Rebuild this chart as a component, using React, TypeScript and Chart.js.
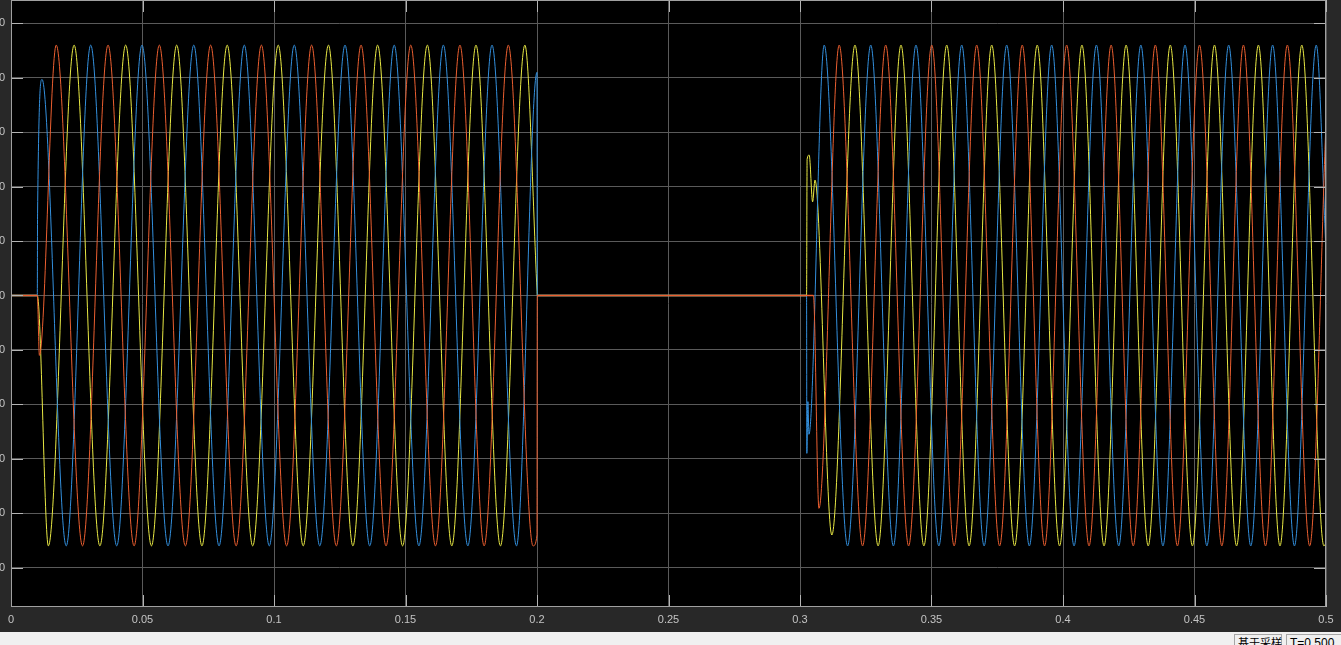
import { useEffect, useRef } from 'react';
import { Chart, registerables } from 'chart.js';

Chart.register(...registerables);

// ---- Data (time in s, value in scope units) ----
// Extrema (peaks/troughs) and transition points of each phase.
const phaseYellowTimes = [0, 0.0100, 0.0142, 0.0240, 0.0338, 0.0436, 0.0534, 0.0630, 0.0726, 0.0822, 0.0919, 0.1016, 0.1111, 0.1207, 0.1300, 0.1394, 0.1489, 0.1583, 0.1676, 0.1768, 0.1861, 0.1954, 0.2000, 0.2001,
  0.3025, 0.3027, 0.3035, 0.3048, 0.3057, 0.3121, 0.3209, 0.3297, 0.3384, 0.3471, 0.3558, 0.3643, 0.3729, 0.3816, 0.3902, 0.3987, 0.4072, 0.4156, 0.4240, 0.4324, 0.4408, 0.4492, 0.4576, 0.4660, 0.4743, 0.4825, 0.4908, 0.4992, 0.5000];
const phaseYellowValues = [0, 0, -460, 460, -460, 460, -460, 460, -460, 460, -460, 460, -460, 460, -460, 460, -460, 460, -460, 460, -460, 460, 10, 0,
  0, 250, 258, 172, 212, -440, 460, -460, 460, -460, 460, -460, 460, -460, 460, -460, 460, -460, 460, -460, 460, -460, 460, -460, 460, -460, 460, -460, -455];

const phaseBlueTimes = [0, 0.0100, 0.0101, 0.0118, 0.0210, 0.0303, 0.0402, 0.0498, 0.0597, 0.0695, 0.0791, 0.0887, 0.0982, 0.1077, 0.1174, 0.1270, 0.1364, 0.1457, 0.1551, 0.1644, 0.1737, 0.1829, 0.1922, 0.2000, 0.2001,
  0.3025, 0.3026, 0.3030, 0.3034, 0.3092, 0.3181, 0.3269, 0.3355, 0.3441, 0.3528, 0.3615, 0.3700, 0.3786, 0.3872, 0.3957, 0.4042, 0.4127, 0.4212, 0.4296, 0.4380, 0.4464, 0.4547, 0.4630, 0.4714, 0.4797, 0.4880, 0.4963, 0.5000];
const phaseBlueValues = [0, 0, 150, 397, -460, 460, -460, 460, -460, 460, -460, 460, -460, 460, -460, 460, -460, 460, -460, 460, -460, 460, -460, 410, 0,
  0, -290, -195, -255, 460, -460, 460, -460, 460, -460, 460, -460, 460, -460, 460, -460, 460, -460, 460, -460, 460, -460, 460, -460, 460, -460, 460, 80];

const phaseOrangeTimes = [0, 0.0100, 0.0108, 0.0172, 0.0272, 0.0369, 0.0468, 0.0564, 0.0663, 0.0759, 0.0856, 0.0952, 0.1048, 0.1143, 0.1237, 0.1331, 0.1426, 0.1520, 0.1614, 0.1707, 0.1799, 0.1891, 0.1985, 0.2000, 0.2001,
  0.3051, 0.3072, 0.3149, 0.3238, 0.3326, 0.3413, 0.3501, 0.3586, 0.3672, 0.3759, 0.3845, 0.3930, 0.4014, 0.4099, 0.4183, 0.4267, 0.4351, 0.4435, 0.4519, 0.4604, 0.4686, 0.4770, 0.4853, 0.4938, 0.5000];
const phaseOrangeValues = [0, 0, -110, 460, -460, 460, -460, 460, -460, 460, -460, 460, -460, 460, -460, 460, -460, 460, -460, 460, -460, 460, -460, -440, 0,
  0, -391, 460, -460, 460, -460, 460, -460, 460, -460, 460, -460, 460, -460, 460, -460, 460, -460, 460, -460, 460, -460, 460, -460, 320];

const xTickLabels = ['0', '0.05', '0.1', '0.15', '0.2', '0.25', '0.3', '0.35', '0.4', '0.45', '0.5'];
const yTickLabels = ['-500', '-400', '-300', '-200', '-100', '0', '100', '200', '300', '400', '500'];
const statusLabels = ['基于采样', 'T=0.500'];

const X_MIN = 0;
const X_MAX = 0.5;
const Y_MIN = -572.3;
const Y_MAX = 542.9;

const COLOR_YELLOW = '#e9e944';
const COLOR_BLUE = '#3390de';
const COLOR_ORANGE = '#ec5f30';
const PANEL_BG = '#282828';
const GRID_COLOR = '#5a5a5a';
const TICK_COLOR = '#b4b4b4';
const FRAME_COLOR = '#a0a0a0';
const LABEL_COLOR = '#c4c4c4';
const FONT = '"Liberation Sans", Arial, Helvetica, sans-serif';

function toPoints(times: number[], values: number[]) {
  return times.map((t, i) => ({ x: t, y: values[i] }));
}

const scopeFrame = {
  id: 'scopeFrame',
  beforeDraw(chart: any) {
    const { ctx, chartArea } = chart;
    ctx.save();
    ctx.fillStyle = PANEL_BG;
    ctx.fillRect(0, 0, chart.width, chart.height);
    ctx.fillStyle = '#000000';
    ctx.fillRect(chartArea.left, chartArea.top, chartArea.right - chartArea.left, chartArea.bottom - chartArea.top);
    ctx.restore();
  },
  afterDraw(chart: any) {
    const { ctx, chartArea } = chart;
    const { left, right, top, bottom } = chartArea;
    const xs = chart.scales.x;
    const ys = chart.scales.y;
    const L = 12;
    ctx.save();
    ctx.lineWidth = 1;
    ctx.strokeStyle = TICK_COLOR;
    ctx.beginPath();
    xs.ticks.forEach((t: any) => {
      const px = Math.round(xs.getPixelForValue(t.value)) + 0.5;
      ctx.moveTo(px, bottom);
      ctx.lineTo(px, bottom - L);
      ctx.moveTo(px, top);
      ctx.lineTo(px, top + L);
    });
    ys.ticks.forEach((t: any) => {
      const py = Math.round(ys.getPixelForValue(t.value)) + 0.5;
      ctx.moveTo(left, py);
      ctx.lineTo(left + L, py);
      ctx.moveTo(right, py);
      ctx.lineTo(right - L, py);
    });
    ctx.stroke();
    ctx.strokeStyle = FRAME_COLOR;
    ctx.strokeRect(Math.round(left) + 0.5, Math.round(top) + 0.5, Math.round(right - left) - 1, Math.round(bottom - top) - 1);
    ctx.restore();
  },
};

export default function App() {
  const canvasRef = useRef<HTMLCanvasElement>(null);

  useEffect(() => {
    const canvas = canvasRef.current;
    if (!canvas) return;
    const common = {
      borderWidth: 1,
      pointRadius: 0,
      pointHoverRadius: 0,
      fill: false,
      cubicInterpolationMode: 'monotone' as const,
      segment: {
        // the idle (zero) stretches read a bit heavier in the scope picture
        borderWidth: (c: any) => (c.p0.parsed.y === 0 && c.p1.parsed.y === 0 ? 1.5 : undefined),
      },
    };
    // Chart.js paints the first dataset on top: orange (drawn last in the scope) comes first.
    const chart = new Chart(canvas, {
      type: 'line',
      data: {
        datasets: [
          { ...common, label: 'Phase 3', data: toPoints(phaseOrangeTimes, phaseOrangeValues), borderColor: COLOR_ORANGE },
          { ...common, label: 'Phase 2', data: toPoints(phaseBlueTimes, phaseBlueValues), borderColor: COLOR_BLUE },
          { ...common, label: 'Phase 1', data: toPoints(phaseYellowTimes, phaseYellowValues), borderColor: COLOR_YELLOW },
        ],
      },
      options: {
        animation: false,
        responsive: false,
        maintainAspectRatio: false,
        devicePixelRatio: 1,
        events: [],
        layout: { padding: { left: 0, right: 15, top: 0, bottom: 0 } },
        plugins: {
          legend: { display: false },
          tooltip: { enabled: false },
          title: { display: false },
        },
        scales: {
          x: {
            type: 'linear',
            min: X_MIN,
            max: X_MAX,
            grid: { color: GRID_COLOR, drawTicks: false, lineWidth: 1 },
            border: { display: false },
            ticks: {
              stepSize: 0.05,
              autoSkip: false,
              maxRotation: 0,
              includeBounds: false,
              padding: 6,
              color: LABEL_COLOR,
              font: { family: FONT, size: 11 },
              callback: (v: any) => {
                const i = Math.round(Number(v) / 0.05);
                return xTickLabels[i] ?? '';
              },
            },
            afterFit: (scale: any) => {
              scale.height = 25;
              scale.paddingLeft = 0;
              scale.paddingRight = 0;
            },
          },
          y: {
            type: 'linear',
            min: Y_MIN,
            max: Y_MAX,
            grid: { color: GRID_COLOR, drawTicks: false, lineWidth: 1 },
            border: { display: false },
            ticks: {
              stepSize: 100,
              includeBounds: false,
              padding: 6,
              color: LABEL_COLOR,
              font: { family: FONT, size: 11 },
              callback: (v: any) => {
                const i = Math.round((Number(v) + 500) / 100);
                return yTickLabels[i] ?? '';
              },
            },
            afterFit: (scale: any) => {
              scale.width = 40;
              scale.paddingTop = 0;
              scale.paddingBottom = 0;
            },
          },
        },
      },
      plugins: [scopeFrame],
    });
    return () => chart.destroy();
  }, []);

  return (
    <div style={{ position: 'fixed', left: 0, top: 0, width: 1341, height: 645, overflow: 'hidden', background: PANEL_BG }}>
      <canvas
        ref={canvasRef}
        width={1370}
        height={632}
        style={{ position: 'absolute', left: -29, top: 0, width: 1370, height: 632, display: 'block' }}
      />
      <div style={{ position: 'absolute', left: 0, top: 632, width: 1341, height: 13, background: '#f0f0f0', overflow: 'hidden' }}>
        <div style={{ position: 'absolute', left: 1234, top: 2, width: 48, height: 20, border: '1px solid #a6a6a6', boxSizing: 'border-box', fontFamily: '"Noto Sans CJK SC", sans-serif', fontSize: 11, lineHeight: '14px', paddingLeft: 3, color: '#000', whiteSpace: 'nowrap' }}>
          {statusLabels[0]}
        </div>
        <div style={{ position: 'absolute', left: 1286, top: 2, width: 60, height: 20, border: '1px solid #a6a6a6', boxSizing: 'border-box', fontFamily: FONT, fontSize: 12, lineHeight: '14px', paddingLeft: 3, paddingTop: 1, color: '#000', whiteSpace: 'nowrap' }}>
          {statusLabels[1]}
        </div>
      </div>
    </div>
  );
}
